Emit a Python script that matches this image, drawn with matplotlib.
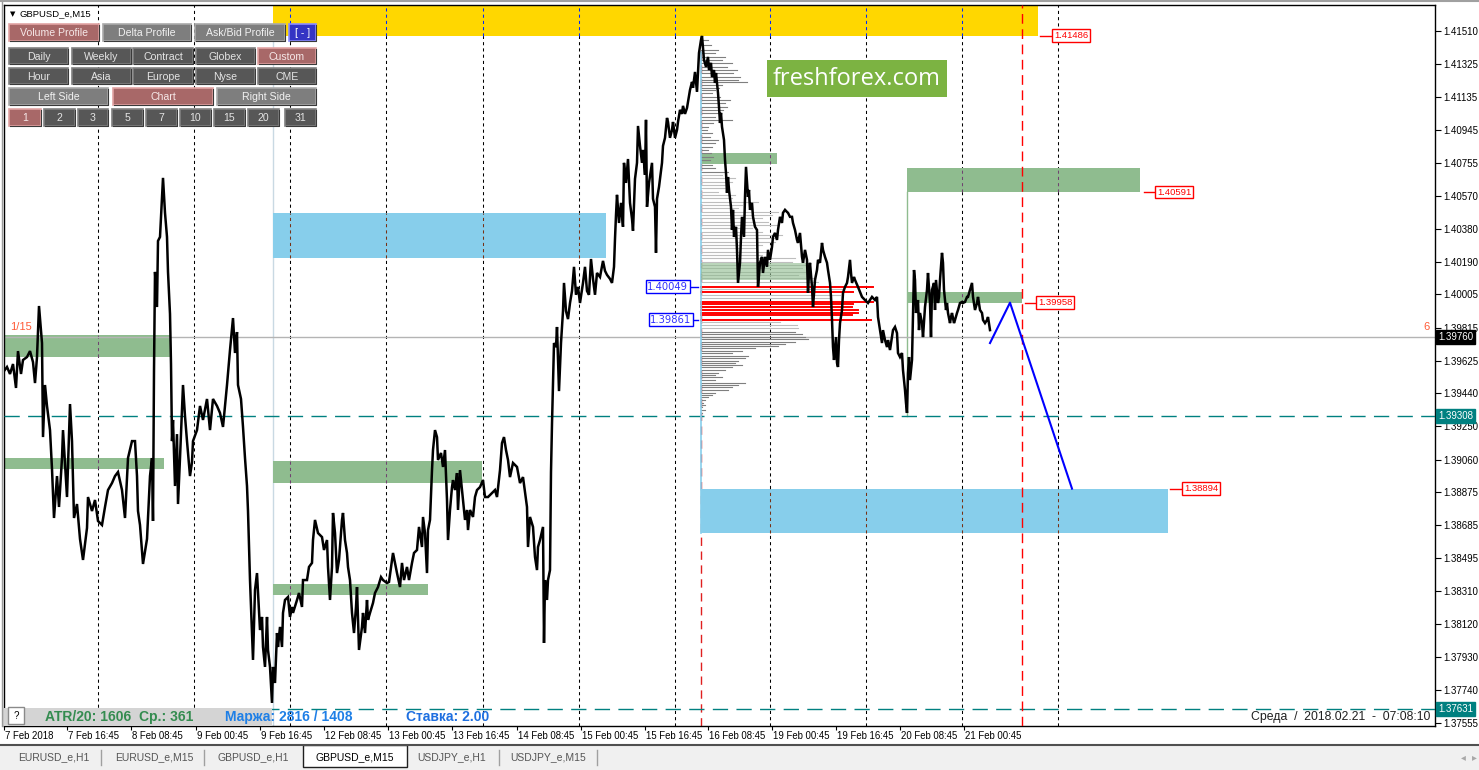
import matplotlib
matplotlib.use('Agg')
import matplotlib.pyplot as plt
from matplotlib.patches import Rectangle
from matplotlib.colors import to_rgb
import matplotlib.transforms as mtransforms

plt.rcParams['font.family'] = ['Liberation Sans', 'DejaVu Sans']

# ---------------- data (bar index, price) ----------------
price_points = [
    (4,1.39567),(7,1.39590),(10,1.39550),(13,1.39607),(16,1.39470),(18,1.39681),(21,1.39550),(23,1.39630),(27,1.39647),(30,1.39681),
    (33,1.39618),(35,1.39498),(37,1.39647),(39,1.39939),(42,1.39727),(43,1.39189),(45,1.39487),(47,1.39367),(50,1.39229),(52,1.39006),
    (54,1.38726),(57,1.38966),(59,1.38789),(62,1.39069),(63,1.39229),(67,1.38846),(70,1.39378),(72,1.39166),(74,1.38726),(77,1.38806),
    (80,1.38606),(83,1.38486),(87,1.38669),(88,1.38846),(92,1.38766),(95,1.38829),(98,1.38709),(102,1.38686),(105,1.38789),(108,1.38886),
    (112,1.38926),(115,1.38966),(118,1.38989),(122,1.38886),(125,1.38726),(128,1.39069),(132,1.39166),(135,1.39166),(137,1.38966),(138,1.38766),
    (140,1.38686),(143,1.38463),(147,1.38606),(150,1.38966),(152,1.39069),(153,1.38709),(154,1.39567),(155,1.40134),(157,1.39933),(158,1.40311),
    (160,1.40334),(163,1.40672),(165,1.40472),(167,1.40334),(168,1.40134),(170,1.39893),(171,1.39607),(172,1.39166),(173,1.39287),(175,1.38909),
    (177,1.39206),(178,1.38806),(180,1.39069),(183,1.39487),(185,1.39309),(187,1.39166),(190,1.38966),(192,1.39046),(193,1.39166),(197,1.39229),
    (200,1.39367),(203,1.39287),(207,1.39407),(210,1.39229),(213,1.39407),(217,1.39367),(220,1.39327),(223,1.39247),(227,1.39487),(230,1.39687),
    (233,1.39870),(235,1.39670),(237,1.39790),(238,1.39487),(241,1.39407),(243,1.39247),(245,1.39069),(247,1.38909),(248,1.38766),
    (250,1.38371),(253,1.37914),(255,1.38314),(257,1.38411),(260,1.38085),(262,1.38160),(263,1.37988),(265,1.37874),(267,1.38160),(268,1.37971),
    (270,1.37874),(272,1.37668),(273,1.37874),(275,1.37782),(277,1.38068),(278,1.37988),(280,1.38103),(282,1.37988),(283,1.38183),(285,1.38257),
    (288,1.38274),(290,1.38160),(292,1.38217),(293,1.38183),(297,1.38257),(299,1.38297),(302,1.38217),(303,1.38371),(307,1.38371),(309,1.38446),
    (312,1.38469),(313,1.38600),(315,1.38715),(318,1.38640),(322,1.38617),(324,1.38543),(327,1.38600),(328,1.38446),(330,1.38257),(332,1.38446),
    (333,1.38755),(335,1.38640),(337,1.38411),(339,1.38486),(342,1.38715),(343,1.38755),(345,1.38600),(347,1.38526),(348,1.38446),(350,1.38371),
    (352,1.38183),(354,1.38068),(356,1.38217),(357,1.38331),(359,1.37971),(362,1.38103),(363,1.38183),(365,1.38068),(367,1.38257),(368,1.38143),
    (370,1.38183),(373,1.38240),(375,1.38297),(378,1.38331),(381,1.38388),(383,1.38371),(387,1.38354),(389,1.38360),(392,1.38486),(393,1.38526),
    (397,1.38411),(400,1.38331),(402,1.38469),(404,1.38371),(407,1.38446),(409,1.38371),(412,1.38469),(414,1.38526),(417,1.38543),(419,1.38675),
    (422,1.38560),(423,1.38732),(425,1.38640),(427,1.38411),(428,1.38657),(430,1.38715),(432,1.39000),(433,1.39115),(435,1.39229),(437,1.39189),
    (438,1.39058),(441,1.39098),(443,1.39018),(445,1.39115),(447,1.38829),(448,1.38600),(450,1.38772),(452,1.38903),(453,1.38943),(455,1.38886),
    (457,1.38983),(458,1.38772),(460,1.39000),(463,1.38829),(465,1.38715),(467,1.38772),(468,1.38657),(470,1.38772),(473,1.38732),(475,1.38846),
    (477,1.38886),(480,1.38903),(483,1.38943),(485,1.38846),(488,1.38846),(492,1.38869),(495,1.38886),(497,1.38846),(500,1.39000),(502,1.39155),
    (504,1.39189),(506,1.39115),(508,1.39058),(510,1.38960),(513,1.39041),(517,1.39018),(520,1.38926),(523,1.38960),(527,1.38789),(528,1.38560),
    (530,1.38732),(533,1.38675),(535,1.38503),(537,1.38428),(538,1.38560),(540,1.38600),(543,1.38675),(544,1.38011),(545,1.38371),(547,1.38257),
    (548,1.38371),(550,1.38428),
    (551,1.38989),(552,1.39264),(553,1.39498),(554,1.39727),(556,1.39704),(557,1.39819),(559,1.39452),(561,1.39727),(563,1.39910),(564,1.40071),
    (566,1.39910),(568,1.39864),(570,1.39956),(572,1.40025),(574,1.40163),(576,1.40003),(578,1.40048),(580,1.39956),(583,1.40071),(585,1.40163),
    (587,1.40025),(589,1.40003),(591,1.40208),(593,1.40094),(595,1.40003),(597,1.40128),(600,1.40105),(603,1.40197),(605,1.40140),(607,1.40117),
    (610,1.40094),(612,1.40071),(614,1.40163),(615,1.40323),(616,1.40460),(617,1.40575),(619,1.40414),(621,1.40529),(623,1.40392),(624,1.40758),
    (626,1.40643),(628,1.40780),(630,1.40529),(632,1.40437),(633,1.40369),(635,1.40666),(637,1.40758),(638,1.40969),(640,1.40855),(642,1.40758),
    (643,1.40832),(645,1.40689),(646,1.41004),(647,1.40506),(649,1.40643),(652,1.40758),(653,1.40552),(655,1.40506),(656,1.40243),(657,1.40552),
    (659,1.40620),(662,1.40758),(663,1.40855),(665,1.40901),(667,1.41015),(668,1.40992),(670,1.40901),(672,1.40946),(673,1.40992),(675,1.40901),
    (677,1.40946),(678,1.40992),(680,1.41061),(682,1.41038),(683,1.41084),(685,1.41038),(687,1.41072),(688,1.41107),(690,1.41175),(692,1.41221),
    (693,1.41187),(695,1.41278),(697,1.41164),(699,1.41387),(701,1.41461),(702,1.41484),
    (704,1.41347),(706,1.41307),(708,1.41364),(709,1.41289),(711,1.41330),(712,1.41249),(714,1.41289),(715,1.41215),(716,1.41272),(718,1.41158),
    (719,1.41078),(720,1.40986),(721,1.41044),(722,1.40964),(724,1.40889),(725,1.40775),(726,1.40700),(727,1.40586),(728,1.40677),(729,1.40603),
    (731,1.40506),(732,1.40374),(733,1.40489),(734,1.40334),(736,1.40392),(737,1.40260),(738,1.40071),(740,1.40186),(741,1.40334),(742,1.40449),
    (744,1.40334),(745,1.40563),(746,1.40735),(748,1.40563),(749,1.40603),(750,1.40489),(752,1.40529),(753,1.40449),(755,1.40392),(757,1.40374),
    (758,1.40048),(760,1.40186),(762,1.40220),(763,1.40128),(765,1.40220),(767,1.40163),(768,1.40260),(770,1.40203),(772,1.40277),(773,1.40334),
    (775,1.40357),(777,1.40317),(778,1.40374),(780,1.40449),(782,1.40414),(783,1.40472),(785,1.40489),(787,1.40477),(788,1.40472),(790,1.40449),
    (792,1.40449),(793,1.40414),(795,1.40374),(797,1.40317),(798,1.40300),(800,1.40357),(802,1.40220),(803,1.40186),(805,1.40260),(807,1.40203),
    (808,1.40014),(809,1.40128),(810,1.40186),(812,1.40048),(813,1.39933),(815,1.40088),(817,1.40145),(818,1.40203),(820,1.40186),(822,1.40300),
    (823,1.40260),(825,1.40220),(827,1.40186),(828,1.40145),(830,1.40071),(831,1.39991),(832,1.39859),(833,1.39704),(834,1.39630),(836,1.39761),
    (837,1.39613),(838,1.39590),(839,1.39744),(840,1.39841),(842,1.39916),(843,1.40014),(845,1.40048),(847,1.40071),(848,1.40105),(850,1.40203),
    (851,1.40128),(852,1.40071),(854,1.40105),
    (855,1.40088),(858,1.40048),(862,1.39991),(865,1.39973),(868,1.39956),(872,1.39991),(875,1.39973),(877,1.39991),(878,1.39876),(880,1.39801),
    (882,1.39727),(883,1.39801),(885,1.39744),(887,1.39704),(888,1.39744),(890,1.39687),(892,1.39761),(893,1.39801),(895,1.39819),(897,1.39784),
    (898,1.39670),(900,1.39647),(902,1.39670),(903,1.39572),(905,1.39458),(906,1.39384),(907,1.39327),(908,1.39555),(909,1.39647),(910,1.39515),
    (912,1.39630),(913,1.39899),(914,1.40145),(915,1.40088),(916,1.39899),(918,1.39973),(919,1.39801),(920,1.39899),(922,1.39841),(923,1.39761),
    (925,1.39933),(927,1.40031),(928,1.40128),(930,1.39956),(931,1.39761),(932,1.40031),(934,1.40071),(935,1.39916),(936,1.40088),(938,1.39956),
    (939,1.39991),(940,1.40088),(942,1.40243),(943,1.40186),(944,1.40031),(946,1.39916),(947,1.39956),(948,1.39899),(950,1.39841),(951,1.39876),
    (952,1.39899),(954,1.39841),(955,1.39859),(957,1.39899),(958,1.39916),(960,1.39956),(962,1.39962),(963,1.39956),(965,1.39962),(967,1.39991),
    (968,1.39991),(970,1.40031),(972,1.40071),(973,1.39991),(975,1.39916),(977,1.39956),(978,1.39991),(980,1.39916),(982,1.39899),(983,1.39859),
    (985,1.39841),(987,1.39859),(988,1.39876),(990,1.39801),
]

projection_bars = [990, 1010, 1072]
projection_prices = [1.39727, 1.39958, 1.38894]

# volume profile: (price level, volume)
profile_levels = [
    (1.41461,7),(1.41433,10),(1.41404,17),(1.41387,14),(1.41364,24),(1.41347,21),(1.41330,31),(1.41307,26),(1.41289,36),(1.41272,32),
    (1.41249,39),(1.41232,37),(1.41221,46),(1.41204,21),(1.41187,18),(1.41175,14),(1.41158,11),(1.41135,19),(1.41118,29),(1.41101,24),
    (1.41078,26),(1.41061,22),(1.41044,17),(1.41021,14),(1.41004,31),(1.40986,12),(1.40964,7),(1.40946,6),(1.40929,11),(1.40906,9),
    (1.40889,17),(1.40872,14),(1.40849,11),(1.40832,7),(1.40815,10),(1.40792,12),(1.40775,9),(1.40746,11),(1.40729,14),(1.40706,27),
    (1.40689,21),(1.40672,34),(1.40649,31),(1.40632,24),(1.40615,27),(1.40592,17),(1.40575,34),(1.40557,31),(1.40535,57),(1.40517,41),
    (1.40500,37),(1.40477,77),(1.40460,71),(1.40443,61),(1.40420,67),(1.40403,77),(1.40386,51),(1.40363,61),(1.40346,81),(1.40329,74),
    (1.40306,74),(1.40289,61),(1.40271,54),(1.40249,67),(1.40231,61),(1.40214,94),(1.40191,91),(1.40174,107),(1.40157,101),(1.40134,104),
    (1.40117,97),(1.40100,114),(1.40077,117),(1.40036,142),(1.40002,139),(1.39985,130),(1.39847,79),(1.39830,96),(1.39813,97),(1.39790,94),
    (1.39778,101),(1.39761,104),(1.39750,107),(1.39733,94),(1.39721,84),(1.39710,77),(1.39698,54),(1.39681,41),(1.39670,31),(1.39653,47),
    (1.39641,44),(1.39624,37),(1.39613,34),(1.39601,41),(1.39590,31),(1.39572,24),(1.39555,17),(1.39544,14),(1.39532,21),(1.39515,14),
    (1.39498,44),(1.39487,37),(1.39475,31),(1.39458,27),(1.39441,14),(1.39430,11),(1.39418,7),(1.39401,4),(1.39384,2),(1.39373,4),
    (1.39361,1),(1.39344,4),(1.39327,1),
]
profile_value_levels = [
    (1.40049,172),(1.40019,152),(1.39962,172),(1.39951,152),(1.39933,151),(1.39916,157),(1.39899,157),(1.39887,151),(1.39861,170),
]
profile_start_bar = 701

price_ticks = [1.41510, 1.41325, 1.41135, 1.40945, 1.40755, 1.40570, 1.40380, 1.40190, 1.40005, 1.39815, 1.39625,
               1.39440, 1.39250, 1.39060, 1.38875, 1.38685, 1.38495, 1.38310, 1.38120, 1.37930, 1.37740, 1.37555]

date_labels = ['7 Feb 2018', '7 Feb 16:45', '8 Feb 08:45', '9 Feb 00:45', '9 Feb 16:45', '12 Feb 08:45',
               '13 Feb 00:45', '13 Feb 16:45', '14 Feb 08:45', '15 Feb 00:45', '15 Feb 16:45', '16 Feb 08:45',
               '19 Feb 00:45', '19 Feb 16:45', '20 Feb 08:45', '21 Feb 00:45']
date_bars = [4, 67, 131, 196, 260, 324, 388, 452, 517, 581, 645, 708, 772, 836, 900, 964]
day_separator_bars = [98, 194, 290, 386, 483, 579, 675, 770, 866, 962, 1058]

bid_price = 1.39760
support_levels = [1.39308, 1.37631]
session_end_bar = 1022

# zones: (bar from, bar to, price low, price high)
green_zones = [(4, 171, 1.39647, 1.39771), (4, 164, 1.39006, 1.39069), (273, 482, 1.38926, 1.39052),
               (273, 428, 1.38285, 1.38348), (701, 777, 1.40752, 1.40815), (907, 1140, 1.40591, 1.40729),
               (907, 1022, 1.39958, 1.40019)]
blue_zones = [(273, 606, 1.40214, 1.40471), (701, 1168, 1.38640, 1.38894)]
yellow_zones = [(273, 1038, 1.41486, 1.41700)]
profile_zone = (701, 810, 1.40088, 1.40185)

red_tags = [(1052, 1.41486, 1040), (1155, 1.40591, 1144), (1036, 1.39958, 1025), (1182, 1.38894, 1170)]
blue_tags = [(645, 1.40049, 698), (648, 1.39861, 698)]

# ---------------- figure ----------------
W, H = 1479, 770
fig = plt.figure(figsize=(W / 100, H / 100), dpi=100)
fig.patch.set_facecolor('white')

L, T, R, B = 4, 5, 1435, 726
ax = fig.add_axes([L / W, 1 - B / H, (R - L) / W, (B - T) / H])
ax.set_facecolor('white')
ax.set_xlim(L, R)
ax.set_ylim(1.37536, 1.41661)
for s in ax.spines.values():
    s.set_color('black')
    s.set_linewidth(1.0)

# day separators
for xb in day_separator_bars:
    ax.axvline(xb, color='black', lw=0.75, ls=(0, (3, 3)), zorder=0.5)


def inverse(c):
    r, g, b = to_rgb(c)
    return (1 - r, 1 - g, 1 - b)


def zone(x0, x1, p0, p1, color, z=1.5, alpha=1.0):
    ax.add_patch(Rectangle((x0, p0), x1 - x0, p1 - p0, facecolor=color, edgecolor='none',
                           alpha=alpha, zorder=z))
    for xb in day_separator_bars:
        if x0 < xb < x1:
            ax.plot([xb, xb], [p0, p1], color=inverse(color), lw=0.75, ls=(0, (3, 3)), zorder=z + 0.05)


for (x0, x1, p0, p1) in yellow_zones:
    zone(x0, x1, p0, p1, '#FFD700')
for (x0, x1, p0, p1) in blue_zones:
    zone(x0, x1, p0, p1, '#87CEEB')
for (x0, x1, p0, p1) in green_zones:
    zone(x0, x1, p0, p1, '#8FBC8F')

# vertical helper lines
ax.plot([273, 273], [1.37536, 1.41486], color='#C9D9E3', lw=1.0, zorder=1.2)
ax.plot([907, 907], [1.39308, 1.40591], color='#8FBC8F', lw=1.0, zorder=1.2)
ax.axvline(profile_start_bar, color='#E02020', lw=1.0, ls=(0, (6, 4)), zorder=1.1)
ax.plot([profile_start_bar, profile_start_bar], [1.38640, 1.41390], color='#87CEEB', lw=1.2, zorder=3.2)
ax.axvline(session_end_bar, color='#FF0000', lw=1.0, ls=(0, (7, 4)), zorder=4)

# volume profile
for p, v in profile_levels:
    col = '#BEBEBE' if 1.39800 < p < 1.40700 else '#7F7F7F'
    ax.plot([profile_start_bar, profile_start_bar + v], [p, p], color=col, lw=0.8, zorder=3)
for p, v in profile_value_levels:
    ax.plot([profile_start_bar, profile_start_bar + v], [p, p], color='#FF0000', lw=1.4, zorder=3.1)
x0, x1, p0, p1 = profile_zone
ax.add_patch(Rectangle((x0, p0), x1 - x0, p1 - p0, facecolor='#8FBC8F', edgecolor='none', alpha=0.6, zorder=3.3))

# horizontal lines
ax.axhline(bid_price, color='#B4B4B4', lw=1.0, zorder=2.5)
for lv in support_levels:
    ax.axhline(lv, color='#008080', lw=1.0, ls=(0, (11, 6)), zorder=2.6)

# price path
bars = [b for b, _ in price_points]
prices = [p for _, p in price_points]
ax.plot(bars, prices, color='black', lw=1.8, zorder=5, solid_joinstyle='miter')
ax.plot(projection_bars, projection_prices, color='#0000FF', lw=1.5, zorder=5.5)

# price tags


def tag(xl, price, color, line_from, fs=6.8):
    ax.plot([line_from, xl], [price, price], color=color, lw=1.0, zorder=6)
    ax.text(xl + 2, price, f'{price:.5f}', color=color, fontsize=fs, ha='left', va='center', zorder=7,
            bbox=dict(boxstyle='square,pad=0.18', fc='white', ec=color, lw=1.0))


for xl, p, lf in red_tags:
    tag(xl, p, '#FF0000', lf)
for xl, p, lt in blue_tags:
    ax.plot([xl + 42, lt], [p, p], color='#0000FF', lw=1.0, zorder=6)
    ax.text(xl + 2, p, f'{p:.5f}', color='#3030FF', fontsize=7.2, ha='left', va='center', zorder=7,
            family=['DejaVu Sans'],
            bbox=dict(boxstyle='square,pad=0.15', fc='white', ec='#0000FF', lw=1.0))

# labels in chart
ax.text(10, 1.39819, '1/15', color='#FF5A36', fontsize=8, ha='left', va='center', zorder=7)
ax.text(1423, 1.39819, '6', color='#FF5A36', fontsize=8, ha='left', va='center', zorder=7)

# freshforex box
ax.text(857, 1.41240, 'freshforex.com', color='white', fontsize=17, family=['Open Sans', 'DejaVu Sans'],
        ha='center', va='center', zorder=8,
        bbox=dict(boxstyle='square,pad=0.26', fc='#7CB342', ec='none'))

# right axis
ax.yaxis.tick_right()
ax.set_yticks(price_ticks)
ax.set_yticklabels([f'{t:.5f}' for t in price_ticks])
ax.tick_params(axis='y', direction='out', length=4, width=0.8, pad=2, labelsize=7, colors='black')
tr_r = mtransforms.blended_transform_factory(ax.transAxes, ax.transData)
ax.text(1 + 3 / (R - L), bid_price, f'{bid_price:.5f}', transform=tr_r, color='white', fontsize=7,
        ha='left', va='center', zorder=9, clip_on=False,
        bbox=dict(boxstyle='square,pad=0.2', fc='black', ec='black'))
for lv in support_levels:
    ax.text(1 + 3 / (R - L), lv, f'{lv:.5f}', transform=tr_r, color='white', fontsize=7,
            ha='left', va='center', zorder=9, clip_on=False,
            bbox=dict(boxstyle='square,pad=0.2', fc='#008080', ec='#008080'))

# bottom time axis
ax.set_xticks(date_bars)
ax.set_xticklabels([])
ax.tick_params(axis='x', direction='out', length=3, width=0.8)
tr_b = mtransforms.blended_transform_factory(ax.transData, ax.transAxes)
for xb, lab in zip(date_bars, date_labels):
    ax.text(xb + 1, -5 / (B - T), lab, transform=tr_b, fontsize=6.9, ha='left', va='top', clip_on=False)

# ---------------- overlay (terminal UI) ----------------
ov = fig.add_axes([0, 0, 1, 1], zorder=10)
ov.set_xlim(0, W)
ov.set_ylim(H, 0)
ov.axis('off')
ov.patch.set_alpha(0)

ov.plot([0, W], [1, 1], color='#A0A0A0', lw=1.5)
ov.plot([1.5, 1.5], [2, 726], color='#9A9A9A', lw=1.0)

ov.text(10, 14, '\u25BC', fontsize=5, ha='left', va='center', family=['DejaVu Sans'])
ov.text(20, 14, 'GBPUSD_e,M15', fontsize=6.8, ha='left', va='center')

styles = {
    'red': ('#A86868', '#E2A4A4', '#F6E8E8'),
    'grey': ('#7E7E7E', '#AAAAAA', '#F2F2F2'),
    'dark': ('#575757', '#808080', '#E4E4E4'),
    'blue': ('#3434C4', '#8C8CFF', '#FFFFFF'),
}
buttons = [
    ('Volume Profile', 9, 24, 99, 41, 'red'), ('Delta Profile', 103, 24, 191, 41, 'grey'),
    ('Ask/Bid Profile', 195, 24, 285, 41, 'grey'), ('[ - ]', 289, 24, 316, 41, 'blue'),
    ('Daily', 9, 48, 68, 64, 'dark'), ('Weekly', 72, 48, 131, 64, 'dark'), ('Contract', 133, 48, 193, 64, 'dark'),
    ('Globex', 196, 48, 255, 64, 'dark'), ('Custom', 258, 48, 316, 64, 'red'),
    ('Hour', 9, 68, 68, 84, 'dark'), ('Asia', 72, 68, 131, 84, 'dark'), ('Europe', 133, 68, 193, 84, 'dark'),
    ('Nyse', 196, 68, 255, 84, 'dark'), ('CME', 258, 68, 316, 84, 'dark'),
    ('Left Side', 9, 88, 108, 105, 'grey'), ('Chart', 113, 88, 213, 105, 'red'), ('Right Side', 217, 88, 316, 105, 'grey'),
    ('1', 9, 109, 41, 126, 'red'), ('2', 44, 109, 75, 126, 'dark'), ('3', 78, 109, 108, 126, 'dark'),
    ('5', 112, 109, 143, 126, 'dark'), ('7', 146, 109, 177, 126, 'dark'), ('10', 180, 109, 211, 126, 'dark'),
    ('15', 214, 109, 245, 126, 'dark'), ('20', 248, 109, 279, 126, 'dark'), ('31', 285, 109, 316, 126, 'dark'),
]
for lab, x0, y0, x1, y1, st in buttons:
    fc, ec, tc = styles[st]
    ov.add_patch(Rectangle((x0, y0), x1 - x0, y1 - y0, facecolor=fc, edgecolor=ec, lw=1.2))
    ov.plot([x0 + 1, x1, x1], [y1, y1, y0 + 1], color='#3A3A3A', lw=0.8)
    ov.text((x0 + x1) / 2, (y0 + y1) / 2 + 0.5, lab, color=tc, fontsize=7.6, ha='center', va='center')

# status bar
ov.add_patch(Rectangle((4, 708), 268, 18, facecolor='#D4D4D4', edgecolor='none'))
ov.add_patch(Rectangle((8, 707), 16, 17, facecolor='white', edgecolor='#8A8A8A', lw=1))
ov.text(16, 716, '?', fontsize=7, ha='center', va='center')
ov.text(45, 717, 'ATR/20: 1606  Ср.: 361', color='#348C50', fontsize=10, fontweight='bold', ha='left', va='center')
ov.text(225, 717, 'Маржа: 2816 / 1408', color='#1E7FE6', fontsize=10, fontweight='bold', ha='left', va='center')
ov.text(406, 717, 'Ставка: 2.00', color='#1E6FE0', fontsize=10, fontweight='bold', ha='left', va='center')
ov.text(1430, 717, 'Среда  /  2018.02.21  -  07:08:10', color='#202020', fontsize=8.8, ha='right', va='center')

# tabs
ov.add_patch(Rectangle((0, 745), W, 25, facecolor='#F0F0F0', edgecolor='none'))
ov.plot([0, W], [745, 745], color='#505050', lw=1.5)
tab_names = ['EURUSD_e,H1', 'EURUSD_e,M15', 'GBPUSD_e,H1', 'GBPUSD_e,M15', 'USDJPY_e,H1', 'USDJPY_e,M15']
tab_centers = [54, 154, 253, 355, 452, 548]
tab_seps = [101, 204, 499, 597]
ov.add_patch(Rectangle((303, 745), 104, 22, facecolor='white', edgecolor='#202020', lw=1))
for xs in tab_seps:
    ov.plot([xs, xs], [750, 765], color='#A0A0A0', lw=1)
for name, xc in zip(tab_names, tab_centers):
    ov.text(xc, 757, name, fontsize=7.5, ha='center', va='center',
            color='black' if name == 'GBPUSD_e,M15' else '#555555')
ov.text(1463, 757, '\u25C2', fontsize=7, color='#A8A8A8', ha='center', va='center', family=['DejaVu Sans'])
ov.text(1474, 757, '\u25B8', fontsize=7, color='#A8A8A8', ha='center', va='center', family=['DejaVu Sans'])

fig.savefig('out.png', dpi=100, facecolor='white')
